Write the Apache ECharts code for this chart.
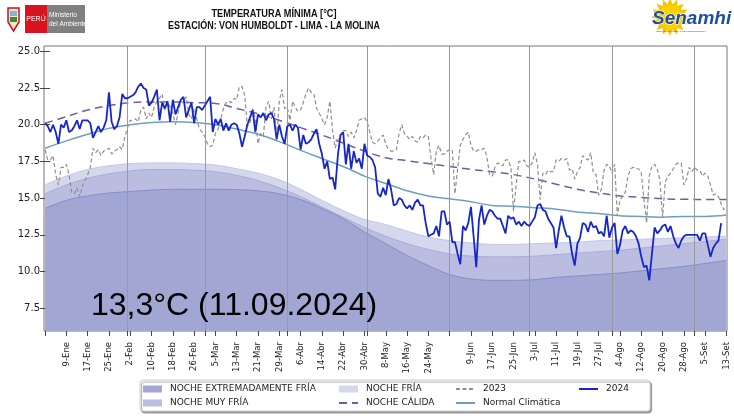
<!DOCTYPE html>
<html>
<head>
<meta charset="utf-8">
<script src="https://cdn.jsdelivr.net/npm/echarts@6/dist/echarts.min.js"></script>
<style>
  html, body { margin: 0; padding: 0; background: #fff; }
  #chart { width: 734px; height: 416px; }
</style>
</head>
<body>
<div id="chart"></div>
<script>
// Days counted from 1-Ene-2024 (day 0)
const tickDays = [8, 16, 24, 32, 40, 48, 56, 64, 72, 80, 88, 96, 104, 112, 120, 128,
  136, 144, 152, 160, 168, 176, 184, 192, 200, 208, 216, 224, 232, 240, 248, 256];
const tickLabels = ['9-Ene', '17-Ene', '25-Ene', '2-Feb', '10-Feb', '18-Feb', '26-Feb', '5-Mar',
  '13-Mar', '21-Mar', '29-Mar', '6-Abr', '14-Abr', '22-Abr', '30-Abr', '8-May', '16-May', '24-May',
  '', '9-Jun', '17-Jun', '25-Jun', '3-Jul', '11-Jul', '19-Jul', '27-Jul', '4-Ago', '12-Ago',
  '20-Ago', '28-Ago', '5-Set', '13-Set'];
const monthDays = [0, 31, 60, 91, 121, 152, 182, 213, 244];
const yTicks = [7.5, 10.0, 12.5, 15.0, 17.5, 20.0, 22.5, 25.0];

// Climatology curves, sampled every 8 days (days 0..256)
const curveDays = [0, 8, 16, 24, 32, 40, 48, 56, 64, 72, 80, 88, 96, 104, 112, 120, 128,
  136, 144, 152, 160, 168, 176, 184, 192, 200, 208, 216, 224, 232, 240, 248, 256];
const normal = [18.4, 18.9, 19.35, 19.75, 20.0, 20.15, 20.2, 20.15, 20.0, 19.7, 19.35, 18.85,
  18.25, 17.7, 17.15, 16.5, 16.0, 15.5, 15.15, 14.95, 14.75, 14.5, 14.45, 14.35, 14.25, 14.05,
  13.95, 13.8, 13.75, 13.7, 13.75, 13.75, 13.85];
const calida = [20.1, 20.55, 21.0, 21.3, 21.5, 21.55, 21.55, 21.5, 21.45, 21.1, 20.75, 20.3,
  19.8, 19.3, 18.75, 18.2, 17.75, 17.55, 17.35, 17.15, 16.95, 16.8, 16.6, 16.3, 15.95, 15.6,
  15.35, 15.15, 15.05, 14.95, 14.92, 14.9, 14.9];
const fria = [15.9, 16.5, 16.95, 17.2, 17.35, 17.4, 17.4, 17.35, 17.25, 17.0, 16.7, 16.25,
  15.6, 14.85, 14.15, 13.55, 13.2, 12.75, 12.35, 12.1, 11.95, 11.85, 11.85, 11.9, 11.95, 12.0,
  12.1, 12.15, 12.2, 12.25, 12.3, 12.35, 12.4];
const muyFria = [15.3, 15.9, 16.35, 16.65, 16.85, 16.95, 16.95, 16.9, 16.8, 16.55, 16.2, 15.7,
  15.1, 14.4, 13.7, 13.0, 12.4, 11.9, 11.5, 11.2, 11.05, 11.0, 11.0, 11.05, 11.15, 11.25,
  11.35, 11.45, 11.6, 11.75, 11.9, 12.05, 12.2];
const extFria = [14.3, 14.85, 15.15, 15.35, 15.45, 15.55, 15.6, 15.6, 15.6, 15.58, 15.5, 15.3,
  14.9, 14.3, 13.6, 12.7, 11.9, 11.1, 10.4, 9.8, 9.5, 9.4, 9.4, 9.45, 9.6, 9.7, 9.8, 9.9,
  10.05, 10.2, 10.35, 10.55, 10.75];

// Daily minimum temperature, one value per day from day 0
const t2024 = [
  20.1, 19.9, 19.5, 20.0, 19.5, 18.7, 20.0, 19.8, 20.3, 19.5,
  19.6, 19.9, 20.3, 19.7, 20.3, 20.3, 20.3, 20.1, 19.1, 19.5,
  19.9, 19.5, 19.8, 20.3, 22.2, 20.2, 19.7, 19.9, 20.5, 22.1,
  21.8, 21.8, 21.9, 22.0, 22.2, 22.6, 22.8, 22.5, 22.4, 21.3,
  21.5, 21.9, 22.4, 20.3, 21.5, 21.1, 21.6, 20.2, 21.7, 20.7,
  21.2, 21.7, 21.9, 20.5, 21.0, 21.5, 20.1, 21.2, 21.2, 21.0,
  21.3, 21.6, 21.9, 19.5, 20.4, 20.0, 20.4, 19.6, 20.1, 19.6,
  20.0, 20.1, 20.0, 19.4, 18.5, 19.2, 20.0, 20.5, 21.0, 19.5,
  20.7, 20.5, 20.8, 20.3, 20.7, 20.8, 20.4, 19.0, 20.0, 19.2,
  18.7, 19.9, 20.0, 19.6, 20.0, 19.8, 18.3, 19.3, 18.7, 18.8,
  19.0, 19.4, 19.7, 18.7, 18.0, 17.0, 17.5, 16.3, 16.4, 15.6,
  17.9, 19.3, 19.5, 17.3, 18.7, 17.0, 18.2, 17.4, 17.7, 17.0,
  18.7, 17.9, 17.8, 17.6, 17.1, 15.3, 15.1, 15.7, 15.2, 16.3,
  15.6, 14.5, 14.6, 15.0, 14.9, 14.5, 14.3, 14.5, 14.2, 14.7,
  14.9, 14.5, 14.5, 13.3, 12.4, 12.5, 12.6, 13.1, 12.4, 14.1,
  14.1, 13.2, 13.4, 12.0, 12.0, 11.2, 10.5, 13.1, 12.8, 13.3,
  14.4, 12.4, 10.3, 13.5, 14.5, 13.2, 13.8, 14.2, 14.1, 13.8,
  13.6, 13.6, 13.1, 12.6, 13.8, 13.6, 13.7, 13.2, 13.4, 13.1,
  13.4, 13.2, 13.1, 13.4, 13.7, 14.5, 14.6, 14.2, 14.1, 13.6,
  13.3, 13.0, 11.6, 12.8, 13.8, 13.0, 12.4, 12.4, 11.2, 10.4,
  11.9, 12.3, 13.3, 13.2, 12.7, 13.4, 13.0, 13.1, 12.6, 12.7,
  12.4, 13.8, 12.3, 13.0, 13.3, 11.2, 11.8, 12.8, 13.1, 12.6,
  12.8, 12.7, 12.4, 11.9, 11.0, 10.3, 10.4, 9.4, 11.2, 13.0,
  12.6, 12.8, 13.1, 13.2, 12.7, 13.1, 12.4, 11.9, 11.6, 12.1,
  12.4, 12.5, 12.5, 12.5, 12.5, 12.5, 12.1, 12.6, 12.6, 11.8,
  11.0, 11.6, 11.9, 12.1, 13.3
];
const t2023 = [
  18.3, 17.6, 17.6, 17.9, 16.6, 15.9, 17.1, 17.1, 17.3, 16.6,
  15.4, 15.3, 15.7, 15.1, 15.8, 16.2, 16.6, 17.1, 18.4, 18.1,
  18.3, 17.9, 18.2, 18.3, 18.4, 18.0, 18.2, 18.3, 18.5, 18.3,
  19.2, 19.8, 20.3, 20.3, 20.4, 20.2, 21.0, 21.2, 20.4, 20.8,
  20.5, 21.2, 21.6, 21.8, 22.1, 21.0, 21.5, 21.2, 20.8, 20.0,
  20.8, 21.6, 21.5, 21.9, 20.7, 20.4, 21.1, 20.4, 19.7, 19.5,
  19.2, 18.7, 18.5, 18.6, 19.4, 19.7, 20.4, 21.1, 21.5, 21.6,
  21.5, 21.8, 21.7, 22.6, 22.6, 22.0, 19.9, 20.1, 21.1, 20.4,
  18.7, 19.4, 19.2, 21.2, 21.6, 20.4, 21.2, 19.1, 21.6, 22.4,
  21.1, 21.2, 20.3, 21.6, 21.2, 20.9, 21.0, 21.5, 22.1, 22.5,
  22.2, 22.1, 21.1, 20.8, 20.4, 20.0, 20.5, 21.6, 19.6, 18.4,
  19.0, 19.3, 19.6, 19.6, 19.2, 19.5, 19.1, 19.6, 20.3, 20.4,
  20.5, 20.2, 19.5, 18.8, 18.7, 18.9, 19.1, 19.3, 18.7, 18.3,
  18.2, 18.2, 18.3, 19.4, 20.0, 19.4, 19.2, 19.0, 19.2, 18.9,
  18.8, 19.2, 19.1, 19.3, 19.2, 17.7, 16.6, 18.2, 18.6, 18.0,
  18.0, 18.2, 18.3, 18.3, 15.3, 17.0, 18.6, 19.0, 19.3, 19.5,
  18.6, 18.2, 18.2, 18.3, 18.3, 18.4, 17.8, 16.6, 16.5, 17.1,
  17.4, 17.3, 17.2, 17.6, 17.6, 17.1, 14.1, 15.9, 17.5, 17.5,
  17.6, 17.2, 17.1, 17.4, 18.1, 17.3, 14.9, 16.7, 16.6, 16.9,
  16.8, 16.8, 17.6, 17.5, 17.7, 17.6, 17.7, 16.9, 17.0, 16.3,
  16.8, 17.1, 17.9, 17.7, 17.6, 18.1, 16.7, 16.6, 15.2, 15.6,
  16.9, 17.3, 17.2, 16.7, 17.3, 13.8, 14.9, 15.1, 15.4, 16.5,
  17.0, 17.1, 17.0, 17.0, 16.7, 14.9, 13.3, 16.5, 17.2, 17.3,
  17.0, 16.2, 13.7, 16.1, 16.5, 16.7, 17.0, 17.3, 17.4, 17.4,
  15.9, 16.3, 17.1, 16.8, 17.1, 16.9, 16.9, 16.5, 16.7, 16.5,
  15.9, 15.2, 15.3, 15.1, 14.6, 14.2, 14.4
];

const FONT = 'DejaVu Sans';
const pairCurve = vals => vals.map((v, i) => [curveDays[i], v]);
const pairDaily = vals => vals.map((v, i) => [i, v]);
const tickLabelByDay = {};
tickDays.forEach((d, i) => { tickLabelByDay[d] = tickLabels[i]; });

function band(name, vals, fill, edge) {
  return {
    name: name, type: 'line', smooth: 0.35, symbol: 'none', z: 1,
    data: pairCurve(vals),
    itemStyle: { color: fill },
    lineStyle: { color: edge, width: 1 },
    areaStyle: { origin: 'start', color: fill, opacity: 1 },
    silent: true
  };
}

function legendBlock(left, items) {
  return {
    left: left, top: 384.5, orient: 'vertical', padding: 0, itemGap: 5,
    itemWidth: 19, itemHeight: 7,
    textStyle: { fontFamily: FONT, fontSize: 9, color: '#222', padding: [0, 0, 0, 3] },
    data: items
  };
}

// Sun shape for the Senamhi logo
const sunPts = [];
for (let k = 0; k < 32; k++) {
  const a = k * Math.PI / 16;
  const r = k % 2 === 0 ? 19 : 13;
  sunPts.push([670 + r * Math.cos(a), 17 + r * Math.sin(a)]);
}

const chart = echarts.init(document.getElementById('chart'), null, { renderer: 'canvas' });

const option = {
  backgroundColor: '#ffffff',
  animation: false,
  grid: {
    left: 44, right: 7, top: 46, bottom: 85,
    show: true, borderColor: '#777', borderWidth: 1, backgroundColor: 'transparent',
    outerBoundsMode: 'none'
  },
  xAxis: [
    {
      type: 'value', min: -0.4, max: 256.2,
      axisLine: { show: false },
      splitLine: { show: false },
      axisTick: { show: true, length: 5, customValues: tickDays, lineStyle: { color: '#444' } },
      axisLabel: {
        customValues: tickDays, rotate: 90, margin: 11,
        fontFamily: FONT, fontSize: 8.5, color: '#222',
        formatter: v => tickLabelByDay[v] !== undefined ? tickLabelByDay[v] : ''
      }
    },
    {
      type: 'value', min: -0.4, max: 256.2, position: 'bottom',
      axisLine: { show: false }, splitLine: { show: false },
      axisTick: { show: true, length: 5, customValues: monthDays, lineStyle: { color: '#444' } },
      axisLabel: { show: false }
    }
  ],
  yAxis: [
    {
      type: 'value', min: 5.95, max: 25.36, position: 'left',
      axisLine: { show: false }, splitLine: { show: false },
      axisTick: { show: true, inside: true, length: 5, customValues: yTicks, lineStyle: { color: '#444' } },
      axisLabel: {
        customValues: yTicks, margin: 4, fontFamily: FONT, fontSize: 10, color: '#222',
        formatter: v => v.toFixed(1)
      }
    },
    {
      type: 'value', min: 5.95, max: 25.36, position: 'right',
      axisLine: { show: false }, splitLine: { show: false },
      axisTick: { show: true, inside: true, length: 5, customValues: yTicks, lineStyle: { color: '#444' } },
      axisLabel: { show: false }
    }
  ],
  legend: [
    legendBlock(143, [
      { name: 'NOCHE EXTREMADAMENTE FRÍA', icon: 'rect' },
      { name: 'NOCHE MUY FRÍA', icon: 'rect' }
    ]),
    legendBlock(338, [
      { name: 'NOCHE FRÍA', icon: 'rect' },
      { name: 'NOCHE CÁLIDA', itemStyle: { opacity: 0 } }
    ]),
    legendBlock(455, [
      { name: '2023', itemStyle: { opacity: 0 } },
      { name: 'Normal Climática', itemStyle: { opacity: 0 } }
    ]),
    legendBlock(578, [
      { name: '2024', itemStyle: { opacity: 0 } }
    ])
  ],
  graphic: [
    // legend frame
    { type: 'rect', z: 0, shape: { x: 140, y: 380, width: 510, height: 31, r: 3 },
      style: { fill: '#fff', stroke: '#cccccc', lineWidth: 1,
        shadowColor: 'rgba(0,0,0,0.35)', shadowOffsetX: 1.5, shadowOffsetY: 2, shadowBlur: 1 } },
    // title (narrow bold face)
    { type: 'text', x: 274, y: 14, scaleX: 0.8,
      style: { text: 'TEMPERATURA MÍNIMA [°C]', x: 0, y: 0, align: 'center', verticalAlign: 'middle',
        font: 'bold 11.5px "Liberation Sans"', fill: '#111' } },
    { type: 'text', x: 274, y: 25.5, scaleX: 0.78,
      style: { text: 'ESTACIÓN: VON HUMBOLDT - LIMA - LA MOLINA', x: 0, y: 0, align: 'center', verticalAlign: 'middle',
        font: 'bold 11.5px "Liberation Sans"', fill: '#111' } },
    // big annotation
    { type: 'text', z: 10, style: { text: '13,3°C (11.09.2024)', x: 91, y: 306.5, align: 'left', verticalAlign: 'middle',
      font: '32px "Liberation Sans"', fill: '#000' } },
    // Peru / Ministerio del Ambiente logo
    { type: 'polygon', shape: { points: [[8, 8], [19, 8], [19, 22], [13.5, 31], [8, 22]] },
      style: { fill: '#f3e7c2', stroke: '#c8102e', lineWidth: 1.5 } },
    { type: 'rect', shape: { x: 10, y: 11, width: 7, height: 5 }, style: { fill: '#7fb6d9' } },
    { type: 'rect', shape: { x: 10, y: 17, width: 7, height: 5 }, style: { fill: '#3c8c3c' } },
    { type: 'rect', shape: { x: 25, y: 5, width: 22, height: 28 }, style: { fill: '#d7141f' } },
    { type: 'text', style: { text: 'PERÚ', x: 36, y: 19, align: 'center', verticalAlign: 'middle',
      font: '7px "Liberation Sans"', fill: '#fff' } },
    { type: 'rect', shape: { x: 47, y: 5, width: 38, height: 28 }, style: { fill: '#808080' } },
    { type: 'text', style: { text: 'Ministerio', x: 49, y: 15, align: 'left', verticalAlign: 'middle',
      font: '6.5px "Liberation Sans"', fill: '#fff' } },
    { type: 'text', style: { text: 'del Ambiente', x: 49, y: 24, align: 'left', verticalAlign: 'middle',
      font: '6.5px "Liberation Sans"', fill: '#fff' } },
    // Senamhi logo
    { type: 'polygon', shape: { points: sunPts }, style: { fill: '#f5c400' } },
    { type: 'circle', shape: { cx: 670, cy: 17, r: 12 }, style: { fill: '#fbd200' } },
    { type: 'text', style: { text: 'Senamhi', x: 652, y: 19, align: 'left', verticalAlign: 'middle',
      font: 'italic bold 19px "Liberation Sans"', fill: '#1f4fa3', stroke: '#fff', lineWidth: 1.2 } },
    { type: 'text', style: { text: 'SERVICIO NACIONAL DE METEOROLOGÍA', x: 656, y: 31, align: 'left', verticalAlign: 'middle',
      font: '2.5px "Liberation Sans"', fill: '#1f4fa3' } }
  ],
  series: [
    band('NOCHE FRÍA', fria, '#d5d7ed', '#c3c6e6'),
    band('NOCHE MUY FRÍA', muyFria, '#babde0', '#a9acd8'),
    band('NOCHE EXTREMADAMENTE FRÍA', extFria, '#a2a6d3', '#878ecb'),
    {
      name: 'grid-months', type: 'line', data: [], z: 2, silent: true,
      markLine: {
        silent: true, symbol: 'none', label: { show: false },
        lineStyle: { color: '#9a9a9a', width: 1, type: 'solid' },
        data: monthDays.slice(1).map(d => ({ xAxis: d }))
      }
    },
    {
      name: 'NOCHE CÁLIDA', type: 'line', smooth: 0.35, symbol: 'none', z: 3,
      data: pairCurve(calida),
      itemStyle: { color: '#7b5a9c' },
      lineStyle: { color: '#7b5a9c', width: 1.5, type: [8, 5] }
    },
    {
      name: 'Normal Climática', type: 'line', smooth: 0.35, symbol: 'none', z: 3,
      data: pairCurve(normal),
      itemStyle: { color: '#6e9fc1' },
      lineStyle: { color: '#6e9fc1', width: 1.5 }
    },
    {
      name: '2023', type: 'line', symbol: 'none', z: 4,
      data: pairDaily(t2023),
      itemStyle: { color: '#8f8f8f' },
      lineStyle: { color: '#8f8f8f', width: 1.2, type: [4, 2.5] }
    },
    {
      name: '2024', type: 'line', symbol: 'none', z: 5,
      data: pairDaily(t2024),
      itemStyle: { color: '#1626c9' },
      lineStyle: { color: '#1626c9', width: 1.8 }
    }
  ]
};

chart.setOption(option);
</script>
</body>
</html>
